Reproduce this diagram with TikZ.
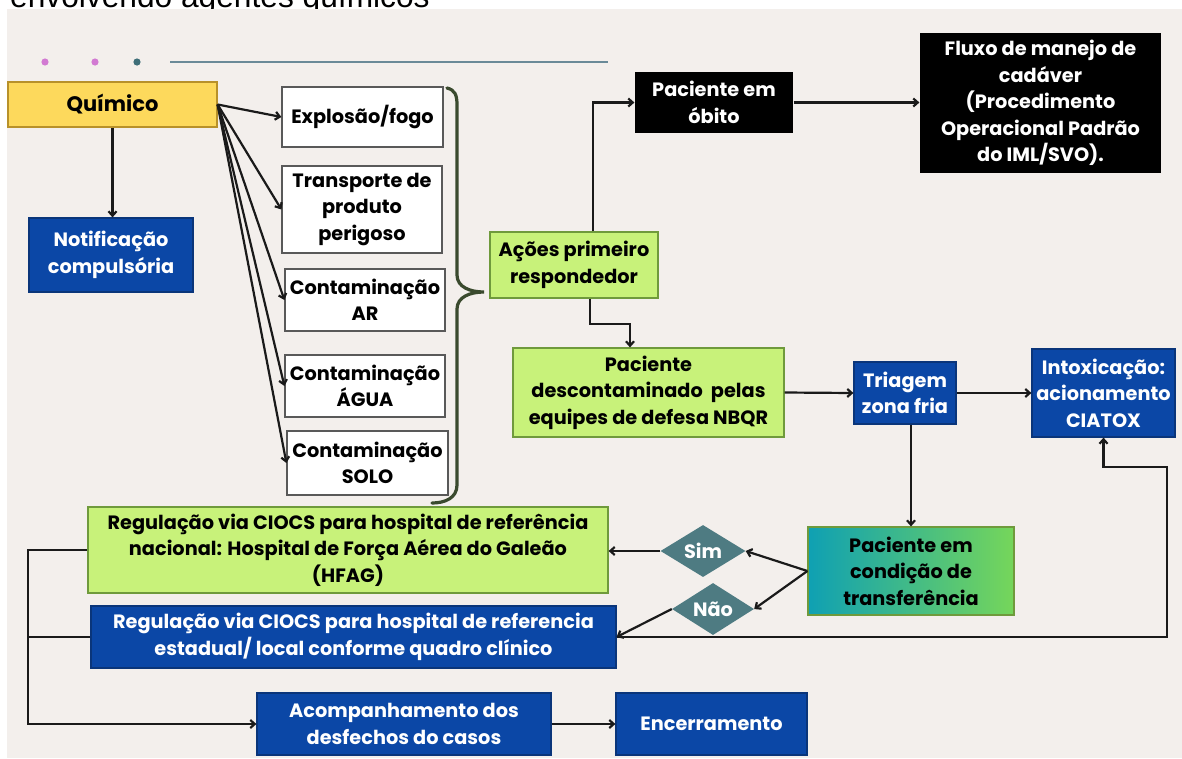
\documentclass[tikz,border=0pt]{standalone}
\usepackage{fontspec}
\setmainfont{Poppins}
\newfontfamily\ttlfont{Liberation Sans}
\usetikzlibrary{arrows.meta,shapes.geometric,calc}
\definecolor{bgc}{HTML}{F3EFEC}
\definecolor{yellowb}{HTML}{FDD95C}
\definecolor{yellowd}{HTML}{B8912A}
\definecolor{blueb}{HTML}{0B47A6}
\definecolor{blued}{HTML}{0A357A}
\definecolor{limeb}{HTML}{C8F27A}
\definecolor{limed}{HTML}{6F9A3C}
\definecolor{diac}{HTML}{4E7B82}
\definecolor{gradl}{HTML}{0FA0B3}
\definecolor{gradr}{HTML}{76D65A}
\definecolor{arrc}{HTML}{1A1A1A}
\definecolor{bracec}{HTML}{3A4A2E}
\definecolor{dotp}{HTML}{D27AD2}
\definecolor{dott}{HTML}{3E6E78}
\definecolor{rulec}{HTML}{6A8A98}
\newcommand\bxf{\fontsize{19.3}{26.5}\selectfont\bfseries}
\newcommand\bxfq{\fontsize{21}{26.5}\selectfont\bfseries}
\begin{document}
\begin{tikzpicture}[x=1pt,y=-1pt,
  base/.style={rectangle, align=center, inner sep=1pt, font=\bxf, line width=1.2pt},
  wbox/.style={base, draw=gray!70!black, fill=white, text=black},
  gbox/.style={base, draw=limed, fill=limeb, text=black},
  bbox/.style={base, draw=blued, fill=blueb, text=white},
  kbox/.style={base, fill=black, text=white},
  ybox/.style={base, draw=yellowd, fill=yellowb, text=black, font=\bxfq},
  gradbox/.style={base, draw=limed, left color=gradl, right color=gradr, text=black},
  dia/.style={diamond, aspect=1.6, inner sep=0pt, fill=diac, text=white, font=\bxf},
  arr/.style={line width=2.2pt, draw=arrc, -{Straight Barb[length=4.5pt,width=8pt]}},
  link/.style={line width=2.2pt, draw=arrc}]
\useasboundingbox (0,0) rectangle (1182,758);
\clip (0,0) rectangle (1182,758);
\fill[white] (0,0) rectangle (1182,758);
\node[anchor=base west, inner sep=0pt, font=\ttlfont\fontsize{31.7}{36}\selectfont] (title) at (10,7) {envolvendo agentes químicos};
\fill[bgc] (7,9) rectangle (1182,758);

% decoration
\fill[dotp] (45,62) circle (3.6);
\fill[dotp] (95,62) circle (3.6);
\fill[dott] (137,62) circle (3.6);
\draw[rulec, line width=1.8pt] (170,62) -- (608,62);

% nodes
\node[ybox, minimum width=209, minimum height=45] (quim) at (112.5,104.5) {Químico};
\node[bbox, minimum width=164, minimum height=74] (notif) at (111,255) {Notificação\\compulsória};
\node[wbox, minimum width=161, minimum height=60] (expl) at (362.5,117) {Explosão/fogo};
\node[wbox, minimum width=160, minimum height=87] (transp) at (362,209.5) {Transporte de\\produto\\perigoso};
\node[wbox, minimum width=160, minimum height=62] (ar) at (365,300) {Contaminação\\AR};
\node[wbox, minimum width=160, minimum height=62] (agua) at (365,386) {Contaminação\\ÁGUA};
\node[wbox, minimum width=161, minimum height=64] (solo) at (367.5,463) {Contaminação\\SOLO};
\node[gbox, minimum width=168, minimum height=66] (acoes) at (574,265) {Ações primeiro\\respondedor};
\node[kbox, minimum width=158, minimum height=61] (obito) at (714,102.5) {Paciente em\\óbito};
\node[kbox, minimum width=241, minimum height=140] (fluxo) at (1040.5,103) {Fluxo de manejo de\\cadáver\\(Procedimento\\Operacional Padrão\\do IML/SVO).};
\node[gbox, minimum width=271, minimum height=89] (desc) at (648.5,392.5) {Paciente\\descontaminado\ \ pelas\\equipes de defesa NBQR};
\node[bbox, minimum width=102, minimum height=62] (triagem) at (905,393) {Triagem\\zona fria};
\node[bbox, minimum width=143, minimum height=88] (intox) at (1103.5,393) {Intoxicação:\\acionamento\\CIATOX};
\node[gradbox, minimum width=206, minimum height=88] (cond) at (911,571) {Paciente em\\condição de\\transferência};
\node[dia, minimum width=85, minimum height=52] (sim) at (703,551) {Sim};
\node[dia, minimum width=82, minimum height=52] (nao) at (713,609) {Não};
\node[gbox, minimum width=520, minimum height=86] (hfag) at (348,550) {Regulação via CIOCS para hospital de referência\\nacional: Hospital de Força Aérea do Galeão\\(HFAG)};
\node[bbox, minimum width=525, minimum height=62] (estad) at (353.5,637) {Regulação via CIOCS para hospital de referencia\\estadual/ local conforme quadro clínico};
\node[bbox, minimum width=294, minimum height=62] (acomp) at (404,724) {Acompanhamento dos\\desfechos do casos};
\node[bbox, minimum width=191, minimum height=62] (encer) at (711.5,724) {Encerramento};

% brace
\draw[bracec, line width=3.2pt, line cap=round]
  (447,88) .. controls (455,90) and (457,95) .. (457,105) -- (457,275)
  .. controls (457,287) and (470,292) .. (484,292)
  .. controls (470,292) and (457,297) .. (457,309) -- (457,485)
  .. controls (457,498) and (445,503) .. (432,503);

% connectors
\draw[arr] (quim.south) -- (quim.south |- notif.north);
\draw[arr] (quim.east) -- (expl.west);
\draw[arr] (quim.east) -- (transp.west);
\draw[arr] (quim.east) -- (ar.west);
\draw[arr] (quim.east) -- (agua.west);
\draw[arr] (quim.east) -- (solo.west);
\draw[arr] (obito.east) -- (fluxo.west |- obito.east);
\draw[arr] ([xshift=19pt]acoes.north) |- (obito.west);
\draw[arr] ([xshift=16pt]acoes.south) -- ++(0,25) -| ([xshift=-18.5pt]desc.north);
\draw[arr] (desc.east) -- (triagem.west);
\draw[arr] (triagem.east) -- (intox.west);
\draw[arr] (cond.north |- triagem.south) -- (cond.north);
\draw[arr] (cond.west) -- (sim.east);
\draw[arr] (cond.west) -- (nao.east);
\draw[arr] (sim.west) -- (hfag.east |- sim.west);
\draw[arr] (nao.west) -- (estad.east);
\coordinate (loop) at (1167,467);
\coordinate (bus) at (28,550);
\draw[arr] (estad.east) -| (loop) -| (intox.south);
\draw[arr] (hfag.west) -- (bus) |- (acomp.west);
\draw[link] (estad.west) -- (estad.west -| bus);
\draw[arr] (acomp.east) -- (encer.west);
\end{tikzpicture}
\end{document}
